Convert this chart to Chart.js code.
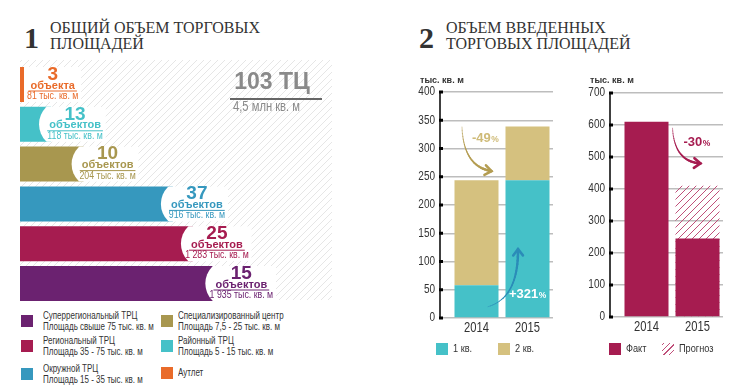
<!DOCTYPE html>
<html lang="ru">
<head>
<meta charset="utf-8">
<script src="https://cdn.jsdelivr.net/npm/chart.js@4.4.1/dist/chart.umd.min.js"></script>
<style>
  body { margin: 0; width: 737px; height: 387px; background: #fff; position: relative; overflow: hidden; font-family: 'Liberation Sans', Arial, sans-serif; color: #333; }
  .abs { position: absolute; white-space: nowrap; }
  .big { font-family: 'Liberation Serif', serif; font-weight: bold; font-size: 30px; line-height: 30px; color: #333; }
  .ttl { font-family: 'Liberation Serif', serif; font-size: 16px; line-height: 16px; color: #333; }
  .cond { display: inline-block; transform: scaleX(0.8); transform-origin: left top; }
  .unit { font-size: 9px; line-height: 9px; font-weight: bold; color: #333; }
  .sw { position: absolute; width: 12px; height: 12px; }
  .lgt { position: absolute; font-size: 10px; line-height: 10.5px; color: #333; white-space: nowrap; }
  canvas { position: absolute; }
</style>
</head>
<body>

<div class="abs big" style="left:24px; top:23px;">1</div>
<div class="abs ttl" style="left:50px; top:20px;">ОБЩИЙ ОБЪЕМ ТОРГОВЫХ<br>ПЛОЩАДЕЙ</div>
<div class="abs big" style="left:419px; top:23px;">2</div>
<div class="abs ttl" style="left:446px; top:20px;">ОБЪЕМ ВВЕДЕННЫХ<br>ТОРГОВЫХ ПЛОЩАДЕЙ</div>

<canvas id="totalChart" width="340" height="250" style="left:0; top:60px;"></canvas>

<div class="abs" style="left:212px; top:70px; width:120px; text-align:center; font-weight:bold; font-size:23px; line-height:23px; color:#8a8a8a;">103 ТЦ</div>
<div class="abs" style="left:230px; top:98px; width:92px; height:2px; background:#666;"></div>
<div class="abs" style="left:233px; top:99px; font-size:14px; line-height:14px; color:#8a8a8a;"><span class="cond">4,5 млн кв. м</span></div>

<div class="abs unit" style="left:420px; top:76px;">тыс. кв. м</div>
<div class="abs unit" style="left:590px; top:76px;">тыс. кв. м</div>

<canvas id="quarterChart" width="155" height="265" style="left:400px; top:80px;"></canvas>
<canvas id="forecastChart" width="155" height="263" style="left:570px; top:81px;"></canvas>

<div id="legends"></div>

<script>
// Общий объем торговых площадей, сверху вниз
const centerTypes = ['Аутлет', 'Районный ТРЦ', 'Специализированный центр', 'Окружной ТРЦ', 'Региональный ТРЦ', 'Суперрегиональный ТРЦ'];
const centerCounts = [3, 13, 10, 37, 25, 15];
const centerWords = ['объекта', 'объектов', 'объектов', 'объектов', 'объектов', 'объектов'];
const centerArea = [81, 118, 204, 916, 1283, 1935]; // тыс. кв. м
const centerColors = ['#E96B2A', '#45C1C8', '#A8974F', '#3698BE', '#A61C50', '#6B2270'];

const legendTypes = ['Суперрегиональный ТРЦ', 'Региональный ТРЦ', 'Окружной ТРЦ', 'Специализированный центр', 'Районный ТРЦ', 'Аутлет'];
const legendRanges = ['Площадь свыше 75 тыс. кв. м', 'Площадь 35 - 75 тыс. кв. м', 'Площадь 15 - 35 тыс. кв. м', 'Площадь 7,5 - 25 тыс. кв. м', 'Площадь 5 - 15 тыс. кв. м', ''];

// Объем введенных площадей
const years = ['2014', '2015'];
const q1Values = [58, 244];
const q2Values = [186, 95];
const factValues = [610, 245];
const forecastValues = [null, 410];

const teal = '#45C1C8';
const tan = '#D5C17F';
const crimson = '#A61C50';
const SQUEEZE = 0.8; // вместо узкого шрифта

Chart.defaults.animation = false;
Chart.defaults.plugins.legend.display = false;
Chart.defaults.plugins.tooltip.enabled = false;

function hatchPattern(color, size) {
    const c = document.createElement('canvas');
    c.width = size; c.height = size;
    const g = c.getContext('2d');
    g.strokeStyle = color;
    g.lineWidth = 1;
    g.beginPath();
    g.moveTo(0, size); g.lineTo(size, 0);
    g.moveTo(-1, 1); g.lineTo(1, -1);
    g.moveTo(size - 1, size + 1); g.lineTo(size + 1, size - 1);
    g.stroke();
    return g.createPattern(c, 'repeat');
}

function formatArea(v) {
    return String(v).replace(/\B(?=(\d{3})+(?!\d))/g, ' ') + ' тыс. кв. м';
}

// узкий текст на canvas
function narrowText(ctx, text, x, y, size, align) {
    ctx.save();
    ctx.font = size + 'px "Liberation Sans", Arial, sans-serif';
    ctx.textAlign = align;
    ctx.translate(x, y);
    ctx.scale(SQUEEZE, 1);
    ctx.fillText(text, 0, 0);
    ctx.restore();
}

function narrowWidth(ctx, text, size) {
    ctx.save();
    ctx.font = size + 'px "Liberation Sans", Arial, sans-serif';
    const w = ctx.measureText(text).width * SQUEEZE;
    ctx.restore();
    return w;
}

// ---------- легенды ----------
const legendBox = document.getElementById('legends');
const legendPos = [[21, 315], [21, 340], [21, 368], [161, 315], [161, 340], [161, 367]];
legendTypes.forEach((name, i) => {
    const [x, y] = legendPos[i];
    const color = centerColors[centerTypes.indexOf(name)];
    const sw = document.createElement('div');
    sw.className = 'sw';
    sw.style.left = x + 'px'; sw.style.top = y + 'px'; sw.style.background = color;
    legendBox.appendChild(sw);
    const t = document.createElement('div');
    t.className = 'lgt';
    t.style.left = (x + (x < 100 ? 22 : 17)) + 'px';
    const html = legendRanges[i] ? name + '<br>' + legendRanges[i] : name;
    t.innerHTML = '<span class="cond">' + html + '</span>';
    t.style.top = (legendRanges[i] ? y - 4 : y + 1) + 'px';
    legendBox.appendChild(t);
});

function smallLegend(x, y, fill, text) {
    const sw = document.createElement('div');
    sw.className = 'sw';
    sw.style.left = x + 'px'; sw.style.top = y + 'px';
    if (fill) sw.style.background = fill;
    legendBox.appendChild(sw);
    const t = document.createElement('div');
    t.className = 'lgt';
    t.style.fontSize = '11.5px';
    t.style.left = (x + 17) + 'px'; t.style.top = y + 'px';
    t.innerHTML = '<span class="cond">' + text + '</span>';
    legendBox.appendChild(t);
    return sw;
}
smallLegend(436, 343, teal, '1 кв.');
smallLegend(498, 343, tan, '2 кв.');
smallLegend(609, 343, crimson, 'Факт');
const hatchSw = smallLegend(662, 343, null, 'Прогноз');
hatchSw.style.background = 'repeating-linear-gradient(-45deg, transparent 0 3px, #c0507a 3px 4px)';

// ---------- левый график ----------
const capLabels = {
    id: 'capLabels',
    beforeDraw(chart) {
        const ctx = chart.ctx;
        ctx.save();
        ctx.beginPath();
        ctx.rect(20, 0, 312, 240);
        ctx.clip();
        ctx.strokeStyle = '#e6e6e6';
        ctx.lineWidth = 1;
        for (let k = -260; k < 340; k += 7) {
            ctx.beginPath();
            ctx.moveTo(k, 240);
            ctx.lineTo(k + 240, 0);
            ctx.stroke();
        }
        ctx.restore();
    },
    afterDatasetsDraw(chart) {
        const ctx = chart.ctx;
        chart.getDatasetMeta(0).data.forEach((bar, i) => {
            const color = centerColors[i];
            const top = bar.y - bar.height / 2;
            const cx = bar.x + 24;
            const areaText = formatArea(centerArea[i]);
            const wArea = narrowWidth(ctx, areaText, 11);
            ctx.save();
            ctx.font = 'bold 11px "Liberation Sans", Arial, sans-serif';
            const wWord = ctx.measureText(centerWords[i]).width;
            const right = cx + Math.max(wArea, wWord) / 2 + 3;
            const left = Math.max(bar.base + 4, bar.x - 14);

            // белая "шапка" с круглым левым краем
            ctx.beginPath();
            ctx.rect(left, top, right - left, bar.height);
            ctx.clip();
            ctx.fillStyle = '#fff';
            ctx.beginPath();
            ctx.arc(bar.x + 12, bar.y, 24, 0, Math.PI * 2);
            ctx.fill();
            ctx.fillRect(bar.x + 12, top, right - bar.x - 12, bar.height);
            ctx.restore();

            ctx.save();
            ctx.fillStyle = color;
            ctx.textAlign = 'center';
            ctx.textBaseline = 'middle';
            ctx.font = 'bold 19px "Liberation Sans", Arial, sans-serif';
            ctx.fillText(String(centerCounts[i]), cx, bar.y - 10);
            ctx.font = 'bold 11px "Liberation Sans", Arial, sans-serif';
            ctx.fillText(centerWords[i], cx, bar.y + 1);
            ctx.strokeStyle = color;
            ctx.lineWidth = 1;
            ctx.beginPath();
            ctx.moveTo(cx - wWord / 2 - 2, bar.y + 6.5);
            ctx.lineTo(cx + wWord / 2 + 2, bar.y + 6.5);
            ctx.stroke();
            narrowText(ctx, areaText, cx, bar.y + 11.5, 11, 'center');
            ctx.restore();
        });
    }
};

new Chart(document.getElementById('totalChart'), {
    type: 'bar',
    data: {
        labels: centerTypes,
        datasets: [{
            data: centerArea,
            backgroundColor: centerColors,
            borderWidth: 0,
            barPercentage: 0.88,
            categoryPercentage: 1
        }]
    },
    options: {
        indexAxis: 'y',
        responsive: false,
        layout: { padding: { left: 20, right: 25, top: 4.6, bottom: 6.6 } },
        scales: {
            x: { type: 'logarithmic', min: 70, max: 10000, display: false },
            y: { display: false }
        }
    },
    plugins: [capLabels]
});

// ---------- графики справа ----------
function curvedArrow(ctx, p0, c, p1, color) {
    const n = 24;
    ctx.save();
    ctx.strokeStyle = color;
    ctx.lineCap = 'round';
    let prev = p0;
    for (let i = 1; i <= n; i++) {
        const t = i / n;
        const x = (1 - t) * (1 - t) * p0.x + 2 * (1 - t) * t * c.x + t * t * p1.x;
        const y = (1 - t) * (1 - t) * p0.y + 2 * (1 - t) * t * c.y + t * t * p1.y;
        ctx.lineWidth = 0.4 + 2.2 * t;
        ctx.beginPath();
        ctx.moveTo(prev.x, prev.y);
        ctx.lineTo(x, y);
        ctx.stroke();
        prev = { x, y };
    }
    const ang = Math.atan2(p1.y - c.y, p1.x - c.x);
    ctx.lineWidth = 2.6;
    ctx.beginPath();
    ctx.moveTo(p1.x - 8 * Math.cos(ang - 0.65), p1.y - 8 * Math.sin(ang - 0.65));
    ctx.lineTo(p1.x, p1.y);
    ctx.lineTo(p1.x - 8 * Math.cos(ang + 0.65), p1.y - 8 * Math.sin(ang + 0.65));
    ctx.stroke();
    ctx.restore();
}

function pctText(ctx, text, x, y, color) {
    ctx.save();
    ctx.fillStyle = color;
    ctx.textBaseline = 'alphabetic';
    ctx.textAlign = 'left';
    ctx.font = 'bold 13px "Liberation Sans", Arial, sans-serif';
    ctx.fillText(text, x, y + 4.5);
    const w = ctx.measureText(text).width;
    ctx.font = 'bold 8.5px "Liberation Sans", Arial, sans-serif';
    ctx.fillText('%', x + w + 0.5, y + 4.5);
    ctx.restore();
}

// ось, засечки и подписи узким шрифтом
const axisLine = {
    id: 'axisLine',
    afterDraw(chart) {
        const ys = chart.scales.y, xs = chart.scales.x, ctx = chart.ctx;
        const x0 = chart.chartArea.left - 11;
        ctx.save();
        ctx.strokeStyle = '#000';
        ctx.lineWidth = 1.5;
        ctx.beginPath();
        ctx.moveTo(x0, ys.top);
        ctx.lineTo(x0, ys.bottom);
        ctx.stroke();
        ctx.textBaseline = 'middle';
        ys.ticks.forEach(t => {
            const py = ys.getPixelForValue(t.value);
            ctx.fillStyle = '#000';
            ctx.fillRect(x0 - 1, py - 1.5, 4, 3);
            ctx.fillStyle = '#333';
            narrowText(ctx, t.label, x0 - 5, py, 12.5, 'right');
        });
        xs.ticks.forEach(t => {
            narrowText(ctx, xs.getLabelForValue(t.value), xs.getPixelForValue(t.value), xs.top + 10, 14, 'center');
        });
        ctx.restore();
    }
};

function axisOptions(max, step) {
    return {
        x: {
            stacked: true,
            grid: { display: false },
            border: { display: false },
            ticks: { display: false },
            afterFit(scale) { scale.height = 27; }
        },
        y: {
            stacked: true,
            min: 0, max: max,
            ticks: { stepSize: step, display: false },
            grid: { color: '#bdbdbd', lineWidth: 1.5, tickLength: 11 },
            border: { display: false },
            afterFit(scale) { scale.width = 51; }
        }
    };
}

const quarterNotes = {
    id: 'quarterNotes',
    afterDraw(chart) {
        const ctx = chart.ctx;
        const xs = chart.scales.x, ys = chart.scales.y;
        const x14 = xs.getPixelForValue(0), x15 = xs.getPixelForValue(1);
        curvedArrow(ctx, { x: x14 - 14.5, y: ys.getPixelForValue(338) },
            { x: x14 - 13, y: ys.getPixelForValue(268) },
            { x: x14 + 15, y: ys.getPixelForValue(260) }, '#B49D52');
        pctText(ctx, '-49', x14 - 4.5, ys.getPixelForValue(320), '#CFBB78');
        curvedArrow(ctx, { x: x14 + 11.5, y: ys.getPixelForValue(20) },
            { x: x15 - 9, y: ys.getPixelForValue(36) },
            { x: x15 - 9.5, y: ys.getPixelForValue(122) }, '#2B8CB8');
        pctText(ctx, '+321', x15 - 18.5, ys.getPixelForValue(44), '#fff');
    }
};

new Chart(document.getElementById('quarterChart'), {
    type: 'bar',
    data: {
        labels: years,
        datasets: [
            { label: '1 кв.', data: q1Values, backgroundColor: teal, borderWidth: 0, barPercentage: 0.863, categoryPercentage: 1 },
            { label: '2 кв.', data: q2Values, backgroundColor: tan, borderWidth: 0, barPercentage: 0.863, categoryPercentage: 1 }
        ]
    },
    options: {
        responsive: false,
        layout: { padding: { top: 12, right: 2 } },
        scales: axisOptions(400, 50)
    },
    plugins: [axisLine, quarterNotes]
});

const forecastNotes = {
    id: 'forecastNotes',
    afterDraw(chart) {
        const ctx = chart.ctx;
        const xs = chart.scales.x, ys = chart.scales.y;
        const x14 = xs.getPixelForValue(0);
        curvedArrow(ctx, { x: x14 + 26, y: ys.getPixelForValue(590) },
            { x: x14 + 28, y: ys.getPixelForValue(485) },
            { x: x14 + 54, y: ys.getPixelForValue(480) }, crimson);
        pctText(ctx, '-30', x14 + 37, ys.getPixelForValue(550), crimson);
    }
};

const forecastOpts = axisOptions(700, 100);
forecastOpts.x.stacked = false;
forecastOpts.y.stacked = false;

new Chart(document.getElementById('forecastChart'), {
    type: 'bar',
    data: {
        labels: years,
        datasets: [
            { label: 'Факт', data: factValues, backgroundColor: crimson, borderWidth: 0, grouped: false, barPercentage: 0.863, categoryPercentage: 1 },
            { label: 'Прогноз', data: forecastValues, backgroundColor: hatchPattern('#C0507A', 7), borderWidth: 0, grouped: false, barPercentage: 0.863, categoryPercentage: 1 }
        ]
    },
    options: {
        responsive: false,
        layout: { padding: { top: 12, right: 2 } },
        scales: forecastOpts
    },
    plugins: [axisLine, forecastNotes]
});
</script>
</body>
</html>
